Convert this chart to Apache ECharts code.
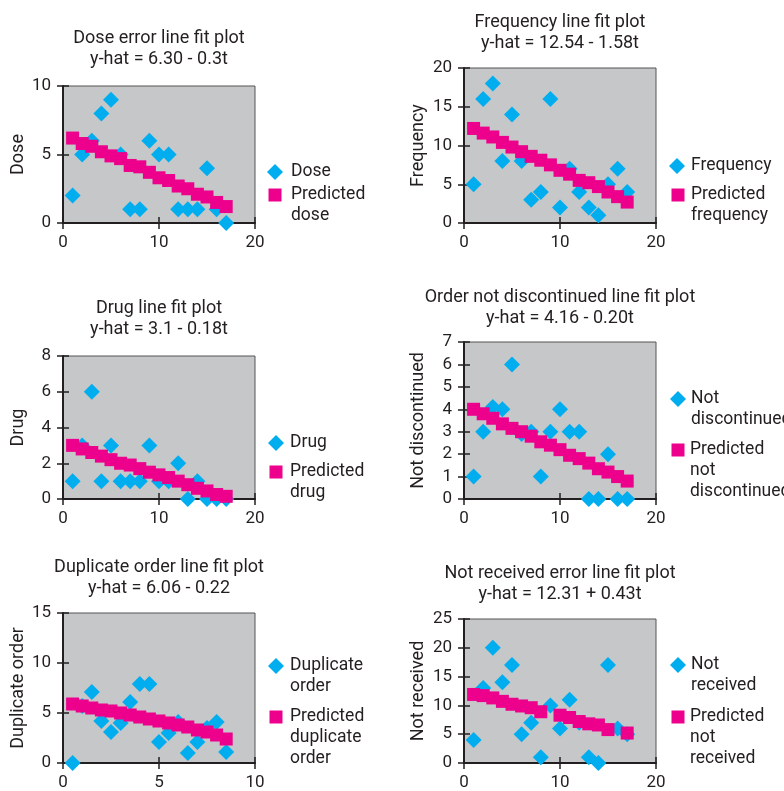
<!DOCTYPE html>
<html>
<head>
<meta charset="utf-8">
<script src="https://cdn.jsdelivr.net/npm/echarts@6/dist/echarts.min.js"></script>
<style>
html,body{margin:0;padding:0;background:#fff;}
#c{width:784px;height:791px;}
</style>
</head>
<body>
<div id="c"></div>
<script>
// ---- data ----
const periods = [1,2,3,4,5,6,7,8,9,10,11,12,13,14,15,16,17];
const periodsHalf = [0.5,1,1.5,2,2.5,3,3.5,4,4.5,5,5.5,6,6.5,7,7.5,8,8.5];

const dose = [2,5,6,8,9,5,1,1,6,5,5,1,1,1,4,1,0];
const dosePred = [6.2,5.8,5.6,5.2,4.9,4.7,4.2,4.1,3.7,3.3,3.1,2.7,2.5,2.1,1.9,1.5,1.2];

const frequency = [5,16,18,8,14,8,3,4,16,2,7,4,2,1,5,7,4];
const frequencyPred = [12.2,11.6,11.1,10.4,9.8,9.2,8.6,8.1,7.5,6.8,6.3,5.5,5.2,4.7,4.0,3.4,2.7];

const drug = [1,3,6,1,3,1,1,1,3,1,1,2,0,1,0,0,0];
const drugPred = [3.0,2.8,2.6,2.4,2.2,2.0,1.9,1.7,1.5,1.35,1.2,1.0,0.8,0.6,0.45,0.25,0.15];

const notDiscontinued = [1,3,4.1,4,6,2.9,3,1,3,4,3,3,0,0,2,0,0];
const notDiscontinuedPred = [4.0,3.8,3.6,3.35,3.15,3.0,2.8,2.55,2.4,2.2,1.95,1.8,1.6,1.35,1.2,1.0,0.8];

const duplicateOrder = [0,5.7,7.1,4.2,3.1,4.0,6.1,7.9,7.9,2.1,3.0,4.1,1.0,2.1,3.5,4.1,1.1];
const duplicateOrderPred = [5.9,5.7,5.5,5.3,5.2,5.0,4.8,4.6,4.4,4.2,4.0,3.8,3.6,3.3,3.1,2.8,2.4];

const notReceived = [4,13,20,14,17,5,7,1,10,6,11,7,1,0,17,6,5];
const notReceivedPred = [11.9,11.7,11.3,10.7,10.2,9.9,9.6,8.9,null,8.3,7.9,7.2,6.8,6.6,5.8,null,5.2];

const xTicks20 = {max: 20, interval: 10};
const xTicks10 = {max: 10, interval: 5};

const plots = [
  {title:'Dose error line fit plot\ny-hat = 6.30 - 0.3t', yName:'Dose', yMax:10, yInt:5, x:xTicks20, t:periods,
   obs:['Dose', dose], pred:['Predicted dose', dosePred]},
  {title:'Frequency line fit plot\ny-hat = 12.54 - 1.58t', yName:'Frequency', yMax:20, yInt:5, x:xTicks20, t:periods,
   obs:['Frequency', frequency], pred:['Predicted frequency', frequencyPred]},
  {title:'Drug line fit plot\ny-hat = 3.1 - 0.18t', yName:'Drug', yMax:8, yInt:2, x:xTicks20, t:periods,
   obs:['Drug', drug], pred:['Predicted drug', drugPred]},
  {title:'Order not discontinued line fit plot\ny-hat = 4.16 - 0.20t', yName:'Not discontinued', yMax:7, yInt:1, x:xTicks20, t:periods,
   obs:['Not discontinued', notDiscontinued], pred:['Predicted not discontinued', notDiscontinuedPred]},
  {title:'Duplicate order line fit plot\ny-hat = 6.06 - 0.22', yName:'Duplicate order', yMax:15, yInt:5, x:xTicks10, t:periodsHalf,
   obs:['Duplicate order', duplicateOrder], pred:['Predicted duplicate order', duplicateOrderPred]},
  {title:'Not received error line fit plot\ny-hat = 12.31 + 0.43t', yName:'Not received', yMax:25, yInt:5, x:xTicks20, t:periods,
   obs:['Not received', notReceived], pred:['Predicted not received', notReceivedPred]}
];

// ---- layout ----
const FONT = "Roboto, 'Liberation Sans', sans-serif";
const TXT = '#231f20';
const BLUE = '#00AEEF';
const PINK = '#EC008C';
const LH = 21;
const FS_TITLE = 18, FS_TICK = 17, FS_NAME = 18, FS_LEG = 17.5;
const layout = [
  {left:63, top:86, w:192, h:137, titleTop:27.5, nameGap:36, leg:[[275,172],[275,195]], textX:291},
  {left:464, top:68, w:192, h:155, titleTop:11.5, nameGap:37, leg:[[677,166],[678,195]], textX:691},
  {left:63, top:356, w:192, h:143, titleTop:297.5, nameGap:36, leg:[[276,443],[276,472]], textX:290},
  {left:464, top:342, w:192, h:157, titleTop:286.5, nameGap:37, leg:[[678,399],[678,450]], textX:690},
  {left:63, top:613, w:192, h:153, titleTop:556.5, nameGap:36, leg:[[276,666],[276,717]], textX:290},
  {left:464, top:619, w:192, h:147, titleTop:562.5, nameGap:37, leg:[[678,665],[678,717]], textX:690}
];

const grid = [], xAxis = [], yAxis = [], series = [], title = [], legend = [];

function legendFor(name, icon, size, cx, cy, textX) {
  const words = name.split(' ');
  const n = words.length;
  const L = cx - size / 2;
  const pl = Math.max(0, textX - (L + size + 5));
  const blank = [];
  for (let k = 1; k < n; k++) blank.push('{t| }');
  const txt = blank.concat(words.map(w => '{t|' + w + '}')).join('\n');
  legend.push({
    data: [{name: name, icon: icon}],
    orient: 'vertical',
    left: L,
    top: cy - (2 * n - 1) * LH / 2,
    padding: 0,
    itemWidth: size,
    itemHeight: size,
    formatter: () => txt,
    textStyle: {fontFamily: FONT, fontSize: FS_LEG, color: TXT, lineHeight: LH,
      rich: {t: {fontFamily: FONT, fontSize: FS_LEG, color: TXT, lineHeight: LH, padding: [0, 0, 0, pl]}}},
    selectedMode: false
  });
}

plots.forEach((p, i) => {
  const g = layout[i];
  grid.push({left: g.left, top: g.top, width: g.w, height: g.h, show: true,
    backgroundColor: '#C6C7C9', borderColor: '#555', borderWidth: 1});
  title.push({text: p.title, left: g.left + g.w / 2, top: g.titleTop, textAlign: 'center', padding: 0,
    textStyle: {fontFamily: FONT, fontSize: FS_TITLE, fontWeight: 'normal', color: TXT, lineHeight: LH}});
  const axBase = {gridIndex: i, type: 'value', min: 0, splitLine: {show: false}};
  xAxis.push(Object.assign({}, axBase, {max: p.x.max, interval: p.x.interval, position: 'bottom',
    axisLine: {show: true, onZero: false, lineStyle: {color: TXT, width: 2}},
    axisTick: {show: true, length: 6, lineStyle: {color: TXT, width: 1.5}},
    axisLabel: {margin: 11, fontFamily: FONT, fontSize: FS_TICK, color: TXT}}));
  xAxis.push(Object.assign({}, axBase, {max: p.x.max, interval: p.x.interval, position: 'bottom',
    axisLine: {show: false, onZero: false},
    axisTick: {show: true, inside: true, length: 6, lineStyle: {color: TXT, width: 1.5}},
    axisLabel: {show: false}}));
  yAxis.push(Object.assign({}, axBase, {max: p.yMax, interval: p.yInt, position: 'left',
    name: p.yName, nameLocation: 'middle', nameRotate: 90, nameGap: g.nameGap,
    nameTextStyle: {fontFamily: FONT, fontSize: FS_NAME, color: TXT},
    axisLine: {show: true, onZero: false, lineStyle: {color: TXT, width: 2}},
    axisTick: {show: true, length: 6, lineStyle: {color: TXT, width: 1.5}},
    axisLabel: {margin: 12, fontFamily: FONT, fontSize: FS_TICK, color: TXT}}));
  yAxis.push(Object.assign({}, axBase, {max: p.yMax, interval: p.yInt, position: 'left',
    axisLine: {show: false, onZero: false},
    axisTick: {show: true, inside: true, length: 6, lineStyle: {color: TXT, width: 1.5}},
    axisLabel: {show: false}}));
  series.push({type: 'scatter', name: p.obs[0], xAxisIndex: 2 * i, yAxisIndex: 2 * i,
    symbol: 'diamond', symbolSize: 16, itemStyle: {color: BLUE, opacity: 1},
    data: p.t.map((t, k) => [t, p.obs[1][k]]), z: 2, silent: true});
  series.push({type: 'scatter', name: p.pred[0], xAxisIndex: 2 * i, yAxisIndex: 2 * i,
    symbol: 'rect', symbolSize: 13, itemStyle: {color: PINK, opacity: 1},
    data: p.t.map((t, k) => [t, p.pred[1][k]]).filter(d => d[1] !== null), z: 3, silent: true});
  legendFor(p.obs[0], 'diamond', 16, g.leg[0][0], g.leg[0][1], g.textX);
  legendFor(p.pred[0], 'rect', 13, g.leg[1][0], g.leg[1][1], g.textX);
});

const chart = echarts.init(document.getElementById('c'), null, {renderer: 'canvas'});
chart.setOption({animation: false, backgroundColor: '#fff', title, grid, xAxis, yAxis, series, legend});
</script>
</body>
</html>
